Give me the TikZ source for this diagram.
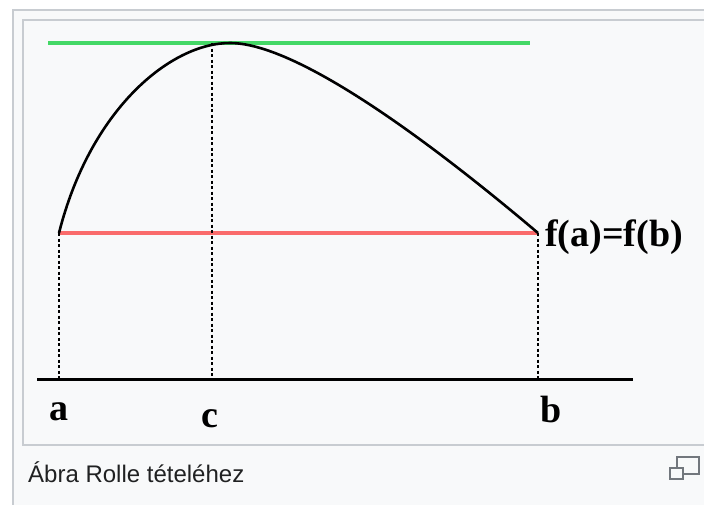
\documentclass[tikz,border=0pt]{standalone}
\usepackage{fontspec}
\setmainfont{Liberation Serif}
\newfontfamily\capfont{Liberation Sans}
\definecolor{bgpage}{HTML}{FFFFFF}
\definecolor{bgbox}{HTML}{F8F9FA}
\definecolor{frameline}{HTML}{C8CCD1}
\definecolor{tangent}{HTML}{44D866}
\definecolor{chord}{HTML}{FA6B6B}
\definecolor{captext}{HTML}{202122}
\definecolor{icongrey}{HTML}{72777D}
\tikzset{
  frame/.style={draw=frameline, line width=1.5pt, fill=bgbox},
  guide/.style={line width=2pt, dash pattern=on 3pt off 2.5pt},
  axisline/.style={line width=3pt},
  graphline/.style={line width=2.6pt},
  lbl/.style={font=\fontsize{38}{38}\selectfont\bfseries, inner sep=0pt},
  captxt/.style={font=\capfont\fontsize{24}{24}\selectfont, text=captext, inner sep=0pt, anchor=base west},
  iconrect/.style={draw=icongrey, line width=1.3pt, fill=bgbox}
}
\begin{document}
\begin{tikzpicture}[x=1pt,y=-1pt]
\useasboundingbox (0,0) rectangle (704,504);
\fill[bgpage] (0,0) rectangle (704,504);
% outer and inner frames
\draw[frame] (13,10) rectangle (720,520);
\draw[frame] (23,20) rectangle (715,445);
% key points
\coordinate (A) at (59,233);
\coordinate (B) at (538,233);
\coordinate (P) at (230,43);
\coordinate (C) at (212,43);
\coordinate (Aax) at (59,379);
\coordinate (Bax) at (538,379);
\coordinate (Cax) at (212,379);
\coordinate (axL) at (37,379);
\coordinate (axR) at (633,379);
\coordinate (gL) at (48,43);
\coordinate (gR) at (530,43);
% tangent and chord
\draw[tangent, line width=3.6pt] (gL) -- (gR);
\draw[chord, line width=3.6pt] (A) -- (B);
% guides
\draw[guide] (A) -- (Aax);
\draw[guide] (C) -- (Cax);
\draw[guide] (B) -- (Bax);
% axis
\draw[axisline] (axL) -- (axR);
% curve
\draw[graphline] (A) .. controls (90,110) and (170,43) .. (P)
  .. controls (300,43) and (440,150) .. (B);
% labels
\node[lbl, anchor=base] (la) at (59,420) {a};
\node[lbl, anchor=base] (lc) at (210,427) {c};
\node[lbl, anchor=base] (lb) at (551,422) {b};
\node[lbl, anchor=base west] (lf) at (545,246) {f(a)=f(b)};
% caption
\node[captxt] (cap) at (28,482) {Ábra Rolle tételéhez};
% magnify icon
\draw[iconrect] (677,457) rectangle (699,474);
\draw[iconrect] (670,468) rectangle (683,479);
\end{tikzpicture}
\end{document}
